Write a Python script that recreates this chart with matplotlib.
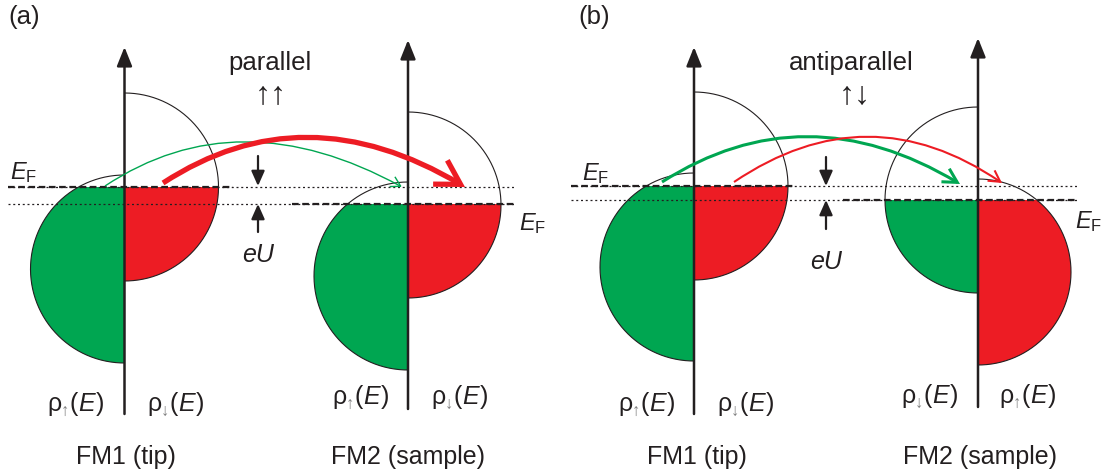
import numpy as np
import matplotlib
matplotlib.use("Agg")
import matplotlib.pyplot as plt
from matplotlib.patches import Polygon, FancyArrowPatch
from matplotlib.path import Path

plt.rcParams['font.family'] = ['Liberation Sans', 'DejaVu Sans']
plt.rcParams['mathtext.fontset'] = 'custom'
plt.rcParams['mathtext.rm'] = 'Liberation Sans'
plt.rcParams['mathtext.it'] = 'Liberation Sans:italic'
plt.rcParams['mathtext.bf'] = 'Liberation Sans:bold'

# ---------------- data (schematic parameters, pixel units) ----------------
panel_labels = ["(a)", "(b)"]
panel_label_x = [8, 578]
titles = ["parallel", "antiparallel"]
title_x = [270, 851]
spin_symbols = ["\u2191\u2191", "\u2191\u2193"]
spin_symbol_x = [271, 855]

# four DOS diagrams: tip(a), sample(a), tip(b), sample(b)
axis_x = [124.5, 408, 694, 978]
axis_top = [48, 41, 48, 39]
axis_bottom = [415, 410, 415, 408]
fermi_y = [188, 205, 187, 201]
left_center_y = [270, 277, 268, 201]
right_center_y = [188, 206, 187, 273]
left_radius = [94, 94, 94, 93]
right_radius = [94, 93, 94, 93]
left_spin = ["\u2191", "\u2191", "\u2191", "\u2193"]
right_spin = ["\u2193", "\u2193", "\u2193", "\u2191"]
left_label_x = [47, 332, 618, 901]
right_label_x = [147, 431, 717, 999]
rho_baseline = [411, 404, 411, 403]
device_names = ["FM1 (tip)", "FM2 (sample)", "FM1 (tip)", "FM2 (sample)"]
device_x = [126, 408, 697, 980]

# Fermi-level label positions
ef_label_x = [10, 519, 582, 1075]
ef_label_base = [179, 230, 180, 228]

# reference lines per panel
line_upper_y = [188, 187]
line_lower_y = [205, 201]
line_x0 = [8, 571]
line_x1 = [516, 1078]
tip_dash_x1 = [233, 793]
sample_dash_x0 = [292, 843]

# eU arrows
eu_x = [258, 826]
eu_down = [(157, 187), (158, 187)]
eu_up = [(233, 205), (230, 201)]
eu_text_base = [262, 269]

# tunnelling arrows: start, apex, end, color, linewidth, head length, head half-width
tunnel_start = [(105, 187), (163, 184), (662, 183), (734, 183)]
tunnel_peak = [(246, 143), (309, 139), (808, 138), (868, 138)]
tunnel_end = [(402, 188), (465, 188), (960, 185), (1002, 184)]
GREEN = "#00A651"
RED = "#ED1C24"
tunnel_color = [GREEN, RED, GREEN, RED]
tunnel_lw = [1.0, 3.8, 2.2, 1.5]
tunnel_head_len = [7, 17, 10, 8]
tunnel_head_w = [4, 10, 5.5, 4.5]

INK = "#231F20"
SUBGREY = "#808080"

# ---------------- drawing ----------------
fig = plt.figure(figsize=(11.01, 4.77), dpi=100)
ax = fig.add_axes([0, 0, 1, 1])
ax.set_xlim(0, 1101)
ax.set_ylim(477, 0)
ax.axis("off")


def lobe(cx, cy, r, side, ef, color):
    th = np.linspace(-np.pi / 2, np.pi / 2, 300)
    ax.plot(cx + side * r * np.cos(th), cy + r * np.sin(th),
            color=INK, lw=0.8, zorder=2, solid_capstyle="butt")
    t0 = np.arcsin(np.clip((ef - cy) / r, -1, 1))
    tf = np.linspace(t0, np.pi / 2, 300)
    xs = cx + side * r * np.cos(tf)
    ys = cy + r * np.sin(tf)
    pts = np.column_stack([np.append(xs, cx), np.append(ys, ef)])
    ax.add_patch(Polygon(pts, closed=True, facecolor=color, edgecolor="none", zorder=1))


def rho_label(x, y, arrow):
    t0 = ax.text(x, y, "\u03c1", ha="left", va="baseline", fontsize=18, color=INK)
    ta = ax.annotate(arrow, xy=(1, 0), xycoords=(t0, t0), xytext=(-0.5, -2.2),
                     textcoords="offset points", ha="left", va="bottom",
                     fontsize=12, color=SUBGREY)
    tp = ax.annotate("(", xy=(1, 0), xycoords=(ta, t0), xytext=(0.2, 0),
                     textcoords="offset points", ha="left", va="bottom",
                     fontsize=18, color=INK)
    te = ax.annotate("E", xy=(1, 0), xycoords=(tp, t0), xytext=(0.3, 0),
                     textcoords="offset points", ha="left", va="bottom",
                     fontsize=18, fontstyle="italic", color=INK)
    ax.annotate(")", xy=(1, 0), xycoords=(te, t0), xytext=(0.6, 0),
                textcoords="offset points", ha="left", va="bottom",
                fontsize=18, color=INK)


for i in range(4):
    cx = axis_x[i]
    lobe(cx, left_center_y[i], left_radius[i], -1, fermi_y[i], GREEN)
    lobe(cx, right_center_y[i], right_radius[i], +1, fermi_y[i], RED)
    # energy axis with arrow head
    ax.add_patch(FancyArrowPatch((cx, axis_bottom[i]), (cx, axis_top[i]),
                                 arrowstyle="-|>,head_length=11.5,head_width=4.6",
                                 mutation_scale=1, lw=1.8, color=INK,
                                 shrinkA=0, shrinkB=0, zorder=4))
    rho_label(left_label_x[i], rho_baseline[i], left_spin[i])
    rho_label(right_label_x[i], rho_baseline[i], right_spin[i])
    ax.text(device_x[i], 464, device_names[i], ha="center", va="baseline",
            fontsize=18, color=INK)
    ax.text(ef_label_x[i], ef_label_base[i], r"$E_{\mathrm{F}}$", ha="left",
            va="baseline", fontsize=17, color=INK)

for p in range(2):
    ax.text(panel_label_x[p], 24, panel_labels[p], ha="left", va="baseline",
            fontsize=18.5, color=INK)
    ax.text(title_x[p], 70, titles[p], ha="center", va="baseline",
            fontsize=18.5, color=INK)
    ax.text(spin_symbol_x[p], 95, spin_symbols[p], ha="center", va="center",
            fontsize=23, color=INK)
    # dotted reference lines
    for yy in (line_upper_y[p], line_lower_y[p]):
        ax.plot([line_x0[p], line_x1[p]], [yy, yy], color=INK, lw=0.9,
                ls=(0, (1.6, 2.2)), zorder=3)
    # thick dashed Fermi levels
    ax.plot([line_x0[p], tip_dash_x1[p]], [line_upper_y[p]] * 2, color=INK,
            lw=1.6, ls=(0, (3.0, 1.6)), zorder=3)
    ax.plot([sample_dash_x0[p], line_x1[p]], [line_lower_y[p]] * 2, color=INK,
            lw=1.6, ls=(0, (3.0, 1.6)), zorder=3)
    # eU arrows
    for (y0, y1) in (eu_down[p], eu_up[p]):
        ax.add_patch(FancyArrowPatch((eu_x[p], y0), (eu_x[p], y1),
                                     arrowstyle="-|>,head_length=9,head_width=4",
                                     mutation_scale=1, lw=1.6, color=INK,
                                     shrinkA=0, shrinkB=0, zorder=4))
    ax.text(eu_x[p], eu_text_base[p], "eU", ha="center", va="baseline",
            fontsize=18, fontstyle="italic", color=INK)

for k in range(4):
    p0 = np.array(tunnel_start[k], float)
    pk = np.array(tunnel_peak[k], float)
    p2 = np.array(tunnel_end[k], float)
    p1 = 2 * pk - (p0 + p2) / 2
    path = Path([p0, p1, p2], [Path.MOVETO, Path.CURVE3, Path.CURVE3])
    ax.add_patch(FancyArrowPatch(path=path,
                                 arrowstyle=f"->,head_length={tunnel_head_len[k]},head_width={tunnel_head_w[k]}",
                                 mutation_scale=1, lw=tunnel_lw[k], color=tunnel_color[k],
                                 zorder=5, capstyle="butt", joinstyle="miter"))

fig.savefig("out.png", dpi=100)
